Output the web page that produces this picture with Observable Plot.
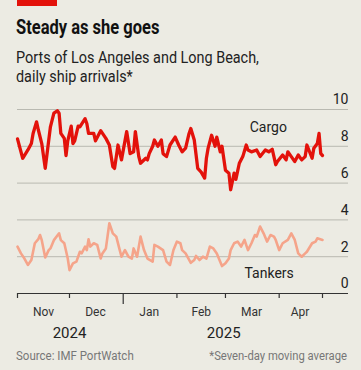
<!DOCTYPE html>
<html>
<head>
<meta charset="utf-8">
<script src="https://cdn.jsdelivr.net/npm/d3@7"></script>
<script src="https://cdn.jsdelivr.net/npm/@observablehq/plot@0.6"></script>
<style>
  html, body { margin: 0; padding: 0; background: #ECEBE3; }
  #root { position: relative; width: 361px; height: 370px; background: #ECEBE3; overflow: hidden;
          font-family: Roboto, "Liberation Sans", sans-serif; color: #1a1a1a; }
  .abs { position: absolute; white-space: nowrap; transform-origin: left top; }
  #chart { position: absolute; left: 0; top: 92px; }
</style>
</head>
<body>
<div id="root">
  <div class="abs" style="left:17px;top:0;width:40px;height:6px;background:#E3120B"></div>
  <div class="abs" style="left:16px;top:16px;font-weight:bold;font-size:20px;line-height:22px;transform:scaleX(0.825);color:#111">Steady as she goes</div>
  <div class="abs" style="left:16px;top:48px;font-size:16px;line-height:19px;color:#222;transform:scaleX(0.9)">Ports of Los Angeles and Long Beach,<br>daily ship arrivals*</div>
  <div id="chart"></div>
  <div class="abs" style="left:16px;top:349px;font-size:12.5px;line-height:14px;color:#777;transform:scaleX(0.92)">Source: IMF PortWatch</div>
  <div class="abs" style="right:14px;top:349px;font-size:12.5px;line-height:14px;color:#777;transform:scaleX(0.9);transform-origin:right top">*Seven-day moving average</div>
</div>
<script>
// ---- Data ----
const cargoDates = ["2024-11-01","2024-11-04","2024-11-07","2024-11-09","2024-11-10","2024-11-12","2024-11-13","2024-11-15","2024-11-17","2024-11-20","2024-11-22","2024-11-24","2024-11-25","2024-11-26","2024-11-28","2024-11-29","2024-11-30","2024-12-02","2024-12-03","2024-12-04","2024-12-06","2024-12-07","2024-12-10","2024-12-11","2024-12-12","2024-12-15","2024-12-16","2024-12-19","2024-12-22","2024-12-24","2024-12-26","2024-12-27","2024-12-29","2024-12-31","2025-01-03","2025-01-05","2025-01-07","2025-01-08","2025-01-10","2025-01-11","2025-01-14","2025-01-15","2025-01-16","2025-01-18","2025-01-19","2025-01-21","2025-01-23","2025-01-24","2025-01-26","2025-01-28","2025-01-31","2025-02-02","2025-02-04","2025-02-06","2025-02-08","2025-02-09","2025-02-11","2025-02-13","2025-02-15","2025-02-17","2025-02-18","2025-02-19","2025-02-21","2025-02-23","2025-02-24","2025-02-26","2025-02-27","2025-03-01","2025-03-03","2025-03-04","2025-03-06","2025-03-07","2025-03-09","2025-03-11","2025-03-13","2025-03-14","2025-03-16","2025-03-19","2025-03-21","2025-03-24","2025-03-26","2025-03-28","2025-03-30","2025-03-31","2025-04-03","2025-04-05","2025-04-06","2025-04-08","2025-04-10","2025-04-12","2025-04-14","2025-04-16","2025-04-17","2025-04-20","2025-04-21","2025-04-23","2025-04-24","2025-04-25","2025-04-26"];
const cargoValues = [8.4,7.35,7.8,8.15,8.7,9.33,8.9,8.15,6.8,9.06,9.8,9.93,9.8,8.7,8.43,7.5,8.3,9.1,8.15,8.3,9.1,9.06,9.5,9.24,8.7,8.7,8.3,8.85,8.43,8.07,6.9,6.8,8.07,7.26,8.8,7.6,7.7,8.8,7.44,7.08,7.35,7.26,7.6,8.0,8.34,8.0,8.34,7.6,7.44,8.07,8.5,8.07,7.7,7.9,8.7,8.97,8.34,6.8,6.6,6.27,7.35,7.9,8.6,8.0,8.5,7.7,8.0,6.7,6.54,5.64,6.54,6.2,7.08,7.44,8.07,7.8,7.7,7.8,7.44,7.8,7.7,7.84,7.0,7.17,7.53,7.26,7.7,7.44,7.17,7.53,7.26,7.44,8.07,7.35,7.9,8.15,8.7,7.6,7.5];

const tankerDates = ["2024-11-01","2024-11-03","2024-11-05","2024-11-07","2024-11-09","2024-11-11","2024-11-13","2024-11-14","2024-11-15","2024-11-17","2024-11-19","2024-11-20","2024-11-22","2024-11-25","2024-11-26","2024-11-28","2024-11-30","2024-12-01","2024-12-03","2024-12-05","2024-12-07","2024-12-08","2024-12-10","2024-12-11","2024-12-12","2024-12-13","2024-12-15","2024-12-17","2024-12-19","2024-12-20","2024-12-22","2024-12-24","2024-12-26","2024-12-28","2024-12-30","2024-12-31","2025-01-02","2025-01-04","2025-01-06","2025-01-07","2025-01-09","2025-01-11","2025-01-13","2025-01-15","2025-01-18","2025-01-19","2025-01-21","2025-01-24","2025-01-26","2025-01-28","2025-01-30","2025-02-01","2025-02-03","2025-02-04","2025-02-06","2025-02-09","2025-02-11","2025-02-12","2025-02-14","2025-02-16","2025-02-18","2025-02-20","2025-02-22","2025-02-24","2025-02-27","2025-03-01","2025-03-03","2025-03-04","2025-03-06","2025-03-08","2025-03-10","2025-03-12","2025-03-14","2025-03-16","2025-03-18","2025-03-19","2025-03-21","2025-03-23","2025-03-25","2025-03-27","2025-03-29","2025-03-30","2025-04-01","2025-04-03","2025-04-06","2025-04-08","2025-04-10","2025-04-12","2025-04-14","2025-04-16","2025-04-17","2025-04-20","2025-04-22","2025-04-23","2025-04-26"];
const tankerValues = [2.55,2.18,1.9,1.55,1.82,2.73,2.95,3.18,2.9,1.96,2.36,2.45,2.9,3.27,2.9,2.73,1.9,1.27,1.64,1.73,2.27,2.18,2.55,2.36,2.95,2.55,2.73,2.64,1.9,2.18,2.45,3.82,3.27,3.09,2.36,2.0,2.36,2.0,1.9,2.45,2.0,3.09,2.36,1.9,1.73,2.64,2.55,2.36,1.73,1.55,2.36,2.82,2.73,2.36,2.18,1.67,1.82,2.04,1.82,2.0,1.9,2.55,2.45,2.18,1.49,1.64,1.9,2.36,2.73,2.82,2.55,2.91,2.36,2.73,3.18,3.09,3.64,3.27,2.82,3.18,3.09,2.91,2.36,2.73,2.91,3.27,2.91,2.18,2.0,2.18,2.27,2.73,2.82,3.0,2.91];

const yTicks = [0, 2, 4, 6, 8, 10];
const monthTickDates = ["2024-11-01","2024-12-01","2025-01-01","2025-02-01","2025-03-01","2025-04-01","2025-04-26"];
const yearTickDates = ["2025-01-01"];
const monthLabels = ["Nov","Dec","Jan","Feb","Mar","Apr"];
const monthLabelDates = ["2024-11-16","2024-12-16","2025-01-16","2025-02-15","2025-03-16","2025-04-13"];
const yearLabels = ["2024","2025"];
const yearLabelDates = ["2024-12-01","2025-02-28"];
const seriesLabels = ["Cargo","Tankers"];
const seriesLabelDates = ["2025-03-15","2025-03-12"];
const seriesLabelValues = [9.0, 1.09];
const xDomain = ["2024-11-01","2025-05-11"];

// ---- Build tables ----
const D = s => new Date(s);
const cargo = cargoDates.map((d, i) => ({date: D(d), value: cargoValues[i]}));
const tankers = tankerDates.map((d, i) => ({date: D(d), value: tankerValues[i]}));
const months = monthLabels.map((m, i) => ({date: D(monthLabelDates[i]), label: m}));
const years = yearLabels.map((y, i) => ({date: D(yearLabelDates[i]), label: y}));
const series = seriesLabels.map((s, i) => ({date: D(seriesLabelDates[i]), value: seriesLabelValues[i], label: s}));
const ticks = monthTickDates.map(d => ({date: D(d), long: yearTickDates.includes(d)}));
const xEnd = D(xDomain[1]);
const FONT = 'Roboto, "Liberation Sans", sans-serif';

const chart = Plot.plot({
  width: 361,
  height: 250,
  marginTop: 17,
  marginBottom: 49,
  marginLeft: 17,
  marginRight: 13,
  style: {background: "transparent", fontFamily: FONT, overflow: "visible"},
  x: {type: "utc", domain: xDomain.map(D), axis: null},
  y: {domain: [0, 10], axis: null},
  marks: [
    Plot.ruleY(yTicks.filter(v => v > 0), {stroke: "#b9b9b1", strokeWidth: 1}),
    Plot.ruleY([0], {stroke: "#333", strokeWidth: 1.2}),
    Plot.ruleX(ticks.filter(t => !t.long), {x: "date", y1: () => 0, y2: () => 0, insetBottom: -5, stroke: "#333", strokeWidth: 1.2}),
    Plot.ruleX(ticks.filter(t => t.long), {x: "date", y1: () => 0, y2: () => 0, insetBottom: -11, stroke: "#333", strokeWidth: 1.2}),
    Plot.text(yTicks, {x: () => xEnd, y: d => d, text: d => String(d), textAnchor: "end", lineAnchor: "middle", dy: -9.5, fontSize: 14, fill: "#222"}),
    Plot.line(tankers, {x: "date", y: "value", stroke: "#F5A48A", strokeWidth: 2.6, strokeLinejoin: "round", strokeLinecap: "round"}),
    Plot.line(cargo, {x: "date", y: "value", stroke: "#E3120B", strokeWidth: 3.3, strokeLinejoin: "round", strokeLinecap: "round"}),
    Plot.text(series, {x: "date", y: "value", text: "label", textAnchor: "start", lineAnchor: "middle", fontSize: 14, fill: "#222"}),
    Plot.text(months, {x: "date", y: () => 0, text: "label", lineAnchor: "middle", dy: 18.7, fontSize: 12, fill: "#333"}),
    Plot.text(years, {x: "date", y: () => 0, text: "label", lineAnchor: "middle", dy: 40, fontSize: 15, fill: "#222"})
  ]
});
document.getElementById("chart").appendChild(chart);
</script>
</body>
</html>
